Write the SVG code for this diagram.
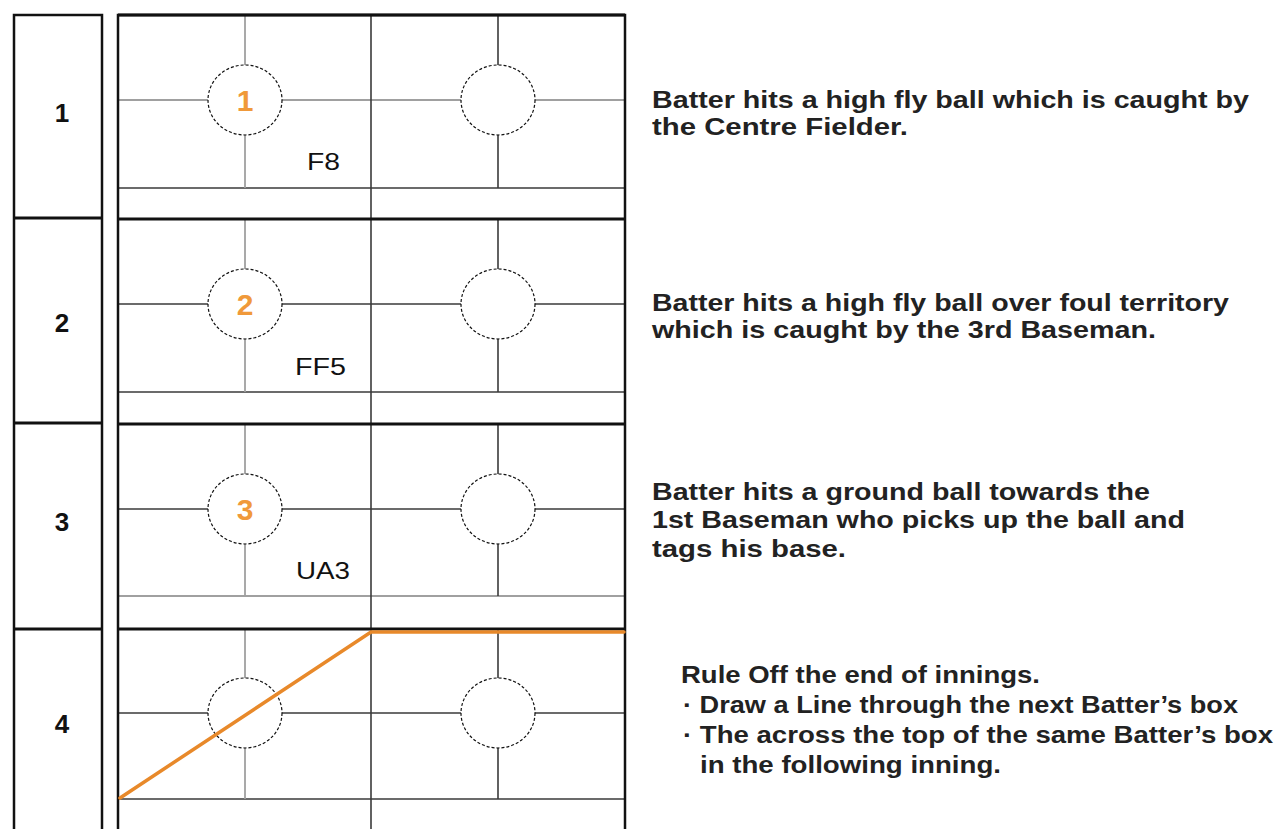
<svg xmlns="http://www.w3.org/2000/svg" width="1276" height="829" viewBox="0 0 1276 829">
<style>
.thick{stroke:#111;stroke-width:3;fill:none}
.frame{stroke:#111;stroke-width:2.5;fill:none}
.dk{stroke:#3a3a3a;stroke-width:1.6}
.gr{stroke:#a0a0a0;stroke-width:1.8}
.ball{fill:#fff;stroke:#111;stroke-width:1.2;stroke-dasharray:3 2}
.lbl{font-family:"Liberation Sans",Arial,sans-serif;font-weight:bold;font-size:26px;fill:#111;text-anchor:middle}
.num{font-family:"Liberation Sans",Arial,sans-serif;font-weight:bold;font-size:30px;fill:#F0993A;text-anchor:middle}
.code{font-family:"Liberation Sans",Arial,sans-serif;font-size:23px;fill:#111}
.desc{font-family:"Liberation Sans",Arial,sans-serif;font-weight:bold;font-size:23px;fill:#222}
.orange{stroke:#E8892A;stroke-width:3.5;fill:none;stroke-linecap:round}
</style>
<rect width="1276" height="829" fill="#fff"/>

<g id="grid-lines">
  <line class="gr" x1="118" y1="100" x2="625" y2="100"/>
  <line class="dk" x1="118" y1="188" x2="625" y2="188"/>
  <line class="gr" x1="245" y1="15" x2="245" y2="188"/>
  <line class="dk" x1="498" y1="15" x2="498" y2="188"/>
  <line class="dk" x1="118" y1="304" x2="625" y2="304"/>
  <line class="dk" x1="118" y1="392" x2="625" y2="392"/>
  <line class="gr" x1="245" y1="220" x2="245" y2="392"/>
  <line class="dk" x1="498" y1="220" x2="498" y2="392"/>
  <line class="dk" x1="118" y1="509" x2="625" y2="509"/>
  <line class="gr" x1="118" y1="596" x2="625" y2="596"/>
  <line class="gr" x1="245" y1="424" x2="245" y2="596"/>
  <line class="dk" x1="498" y1="424" x2="498" y2="596"/>
  <line class="dk" x1="118" y1="713" x2="625" y2="713"/>
  <line class="dk" x1="118" y1="799" x2="625" y2="799"/>
  <line class="gr" x1="245" y1="630" x2="245" y2="799"/>
  <line class="dk" x1="498" y1="630" x2="498" y2="799"/>
  <line class="dk" x1="371" y1="15" x2="371" y2="829"/>
</g>

<g id="frames">
  <rect class="frame" x="14" y="15" width="88" height="830"/>
  <line class="thick" x1="14" y1="218" x2="102" y2="218"/>
  <line class="thick" x1="14" y1="423" x2="102" y2="423"/>
  <line class="thick" x1="14" y1="629" x2="102" y2="629"/>
  <rect class="frame" x="118" y="15" width="507" height="830"/>
  <line class="thick" x1="118" y1="15" x2="625" y2="15"/>
  <line class="thick" x1="118" y1="219" x2="625" y2="219"/>
  <line class="thick" x1="118" y1="424" x2="625" y2="424"/>
  <line class="thick" x1="118" y1="629" x2="625" y2="629"/>
</g>

<g id="row1">
  <text class="lbl" x="62" y="122">1</text>
  <ellipse class="ball" cx="245" cy="100" rx="37" ry="35"/>
  <ellipse class="ball" cx="498" cy="100" rx="37" ry="35"/>
  <text class="num" x="245" y="111">1</text>
  <text class="code" x="307" y="170" textLength="33" lengthAdjust="spacingAndGlyphs">F8</text>
  <text class="desc" x="652" y="108" textLength="597" lengthAdjust="spacingAndGlyphs">Batter hits a high fly ball which is caught by</text>
  <text class="desc" x="652" y="135" textLength="256" lengthAdjust="spacingAndGlyphs">the Centre Fielder.</text>
</g>

<g id="row2">
  <text class="lbl" x="62" y="332">2</text>
  <ellipse class="ball" cx="245" cy="304" rx="37" ry="35"/>
  <ellipse class="ball" cx="498" cy="304" rx="37" ry="35"/>
  <text class="num" x="245" y="315">2</text>
  <text class="code" x="295" y="375" textLength="51" lengthAdjust="spacingAndGlyphs">FF5</text>
  <text class="desc" x="652" y="311" textLength="577" lengthAdjust="spacingAndGlyphs">Batter hits a high fly ball over foul territory</text>
  <text class="desc" x="652" y="338" textLength="504" lengthAdjust="spacingAndGlyphs">which is caught by the 3rd Baseman.</text>
</g>

<g id="row3">
  <text class="lbl" x="62" y="531">3</text>
  <ellipse class="ball" cx="245" cy="509" rx="37" ry="35"/>
  <ellipse class="ball" cx="498" cy="509" rx="37" ry="35"/>
  <text class="num" x="245" y="520">3</text>
  <text class="code" x="296" y="579" textLength="54" lengthAdjust="spacingAndGlyphs">UA3</text>
  <text class="desc" x="652" y="500" textLength="498" lengthAdjust="spacingAndGlyphs">Batter hits a ground ball towards the</text>
  <text class="desc" x="652" y="528" textLength="533" lengthAdjust="spacingAndGlyphs">1st Baseman who picks up the ball and</text>
  <text class="desc" x="652" y="557" textLength="194" lengthAdjust="spacingAndGlyphs">tags his base.</text>
</g>

<g id="row4">
  <text class="lbl" x="62" y="733">4</text>
  <ellipse class="ball" cx="245" cy="713" rx="37" ry="35"/>
  <ellipse class="ball" cx="498" cy="713" rx="37" ry="35"/>
  <text class="desc" x="681" y="683" textLength="359" lengthAdjust="spacingAndGlyphs">Rule Off the end of innings.</text>
  <text class="desc" x="683" y="713" textLength="555" lengthAdjust="spacingAndGlyphs">· Draw a Line through the next Batter’s box</text>
  <text class="desc" x="683" y="743" textLength="590" lengthAdjust="spacingAndGlyphs">· The across the top of the same Batter’s box</text>
  <text class="desc" x="700" y="773" textLength="301" lengthAdjust="spacingAndGlyphs">in the following inning.</text>
</g>

<g id="connectors">
  <polyline class="orange" points="120,798 371,632 624,632"/>
</g>
</svg>
